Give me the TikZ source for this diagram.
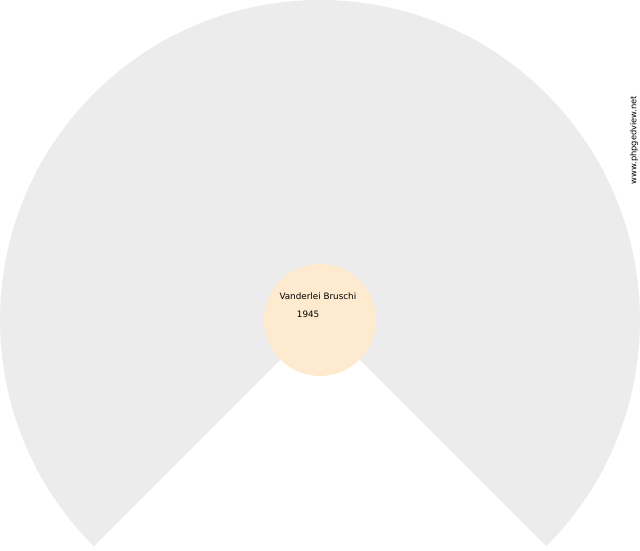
\documentclass[tikz,border=0pt]{standalone}
\usepackage{fontspec}
\setmainfont{DejaVu Sans}
\definecolor{fangray}{HTML}{ECECEC}
\definecolor{rootcream}{HTML}{FEEBCF}

\begin{document}
\begin{tikzpicture}[x=1pt,y=1pt]
  \useasboundingbox (0,0) rectangle (640,550);
  \coordinate (c) at (320,230);
  % fan of ancestors
  \fill [fangray] (c) -- ++(-45:320) arc [start angle=-45, end angle=225, radius=320] -- cycle;
  % root person
  \node (root) [circle, fill=rootcream, minimum size=112, inner sep=0] at (c) {};
  \node (name) [anchor=base west, inner sep=0, font=\fontsize{8.8}{10}\selectfont] at (279.3,251) {Vanderlei Bruschi};
  \node (year) [anchor=base west, inner sep=0, font=\fontsize{8.8}{10}\selectfont] at (296.7,233) {1945};
  \node (site) [rotate=90, inner sep=0, font=\fontsize{8.3}{10}\selectfont] at (634,410) {www.phpgedview.net};
\end{tikzpicture}
\end{document}
